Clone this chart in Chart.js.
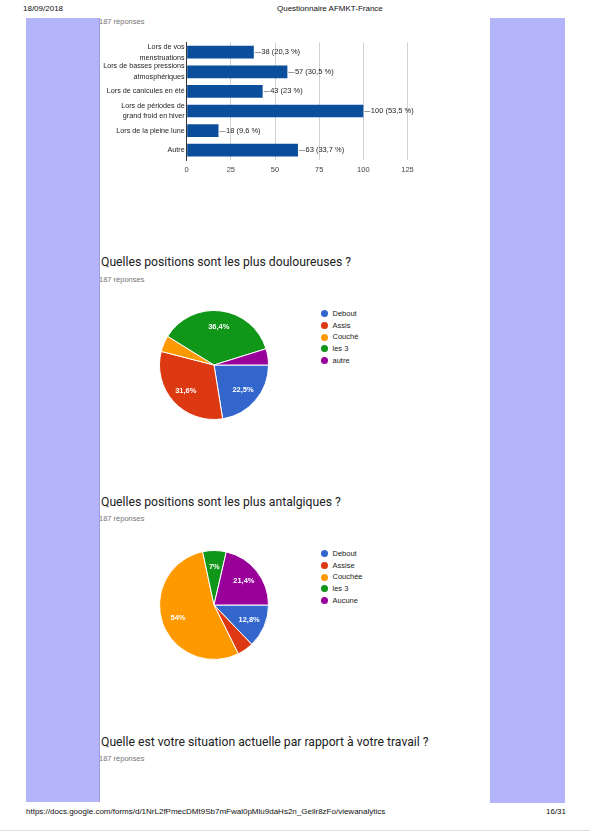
<!DOCTYPE html>
<html>
<head>
<meta charset="utf-8">
<script src="https://cdn.jsdelivr.net/npm/chart.js@4/dist/chart.umd.min.js"></script>
<style>
  body { margin: 0; width: 590px; height: 833px; background: #fff; position: relative; overflow: hidden; font-family: "Liberation Sans", Arial, sans-serif; }
  .abs { position: absolute; white-space: nowrap; }
  .band { position: absolute; background: #b4b4fb; }
  .small { font-size: 8px; color: #111; line-height: 10px; }
  .resp { font-size: 7.5px; color: #757575; line-height: 10px; }
  .title { font-family: Roboto, sans-serif; font-size: 12.2px; color: #212121; line-height: 15px; }
  .legend { position: absolute; font-size: 7.5px; color: #222; }
  .legend div { position: relative; height: 11.67px; line-height: 11.67px; padding-left: 12px; }
  .legend span { position: absolute; left: 0; top: 2.3px; width: 7px; height: 7px; border-radius: 50%; }
  canvas { position: absolute; }
</style>
</head>
<body>
<div class="abs small" style="left:23px; top:4px;">18/09/2018</div>
<div class="abs small" style="left:277px; top:4px;">Questionnaire AFMKT-France</div>

<div class="abs resp" style="left:99px; top:17px;">187 réponses</div>

<canvas id="barChart" width="340" height="145" style="left:90px; top:35px;"></canvas>

<div class="abs title" style="left:101px; top:255px;">Quelles positions sont les plus douloureuses ?</div>
<div class="abs resp" style="left:99px; top:275px;">187 réponses</div>
<canvas id="pie1" width="140" height="140" style="left:143.5px; top:294.5px;"></canvas>
<div class="legend" id="legend1" style="left:320.5px; top:308px;"></div>

<div class="abs title" style="left:101px; top:495px;">Quelles positions sont les plus antalgiques ?</div>
<div class="abs resp" style="left:99px; top:514px;">187 réponses</div>
<canvas id="pie2" width="140" height="140" style="left:143.5px; top:534.5px;"></canvas>
<div class="legend" id="legend2" style="left:320.5px; top:548px;"></div>

<div class="abs title" style="left:101px; top:734.5px;">Quelle est votre situation actuelle par rapport à votre travail ?</div>
<div class="abs resp" style="left:99px; top:754px;">187 réponses</div>

<div class="band" style="left:26px; top:18px; width:73px; height:784px;"></div>
<div class="band" style="left:99px; top:18px; width:1px; height:784px; background:#9d9de0;"></div>
<div class="band" style="left:490px; top:18px; width:75px; height:785px;"></div>

<div class="abs small" style="left:26px; top:807px;">https://docs.google.com/forms/d/1NrL2fPmecDMt9Sb7mFwal0pMlu9daHs2n_Geilr8zFo/viewanalytics</div>
<div class="abs small" style="left:546px; top:807px;">16/31</div>
<div class="abs" style="left:0; top:830px; width:590px; height:1px; background:#ddd;"></div>

<script>
const totalResponses = 187;

const barLabels = [
  ['Lors de vos', 'menstruations'],
  ['Lors de basses pressions', 'atmosphériques'],
  'Lors de canicules en été',
  ['Lors de périodes de', 'grand froid en hiver'],
  'Lors de la pleine lune',
  'Autre'
];
const barValues = [38, 57, 43, 100, 18, 63];
const barTicks = [0, 25, 50, 75, 100, 125];

const pie1Labels = ['Debout', 'Assis', 'Couché', 'les 3', 'autre'];
const pie1Values = [42, 59, 9, 68, 9];

const pie2Labels = ['Debout', 'Assise', 'Couchée', 'les 3', 'Aucune'];
const pie2Values = [24, 9, 101, 13, 40];

const pieColors = ['#3366cc', '#dc3912', '#ff9900', '#109618', '#990099'];

const chartFont = { family: '"Liberation Sans", Arial, sans-serif', size: 7.5 };

function pct(v, total) {
  let s = (v / total * 100).toFixed(1);
  if (s.endsWith('.0')) s = s.slice(0, -2);
  return s.replace('.', ',');
}

// value labels at the end of each bar: "—38 (20,3 %)"
const barValueLabels = {
  id: 'barValueLabels',
  afterDatasetsDraw(chart) {
    const ctx = chart.ctx;
    const meta = chart.getDatasetMeta(0);
    ctx.save();
    ctx.font = '7.5px "Liberation Sans", Arial, sans-serif';
    ctx.textBaseline = 'middle';
    ctx.textAlign = 'left';
    meta.data.forEach((bar, i) => {
      const v = barValues[i];
      ctx.strokeStyle = '#999';
      ctx.lineWidth = 1;
      ctx.beginPath();
      ctx.moveTo(bar.x + 1, Math.round(bar.y) + 0.5);
      ctx.lineTo(bar.x + 7, Math.round(bar.y) + 0.5);
      ctx.stroke();
      ctx.fillStyle = '#222';
      ctx.fillText(v + ' (' + pct(v, totalResponses) + ' %)', bar.x + 7.5, bar.y);
    });
    ctx.restore();
  }
};

// percentage labels inside the pie slices
const pieLabels = {
  id: 'pieLabels',
  afterDatasetsDraw(chart) {
    const ctx = chart.ctx;
    const meta = chart.getDatasetMeta(0);
    const values = chart.data.datasets[0].data;
    const total = values.reduce((a, b) => a + b, 0);
    ctx.save();
    ctx.font = 'bold 7.5px "Liberation Sans", Arial, sans-serif';
    ctx.fillStyle = '#fff';
    ctx.textAlign = 'center';
    ctx.textBaseline = 'middle';
    meta.data.forEach((arc, i) => {
      if (values[i] / total < 0.05) return;
      const mid = (arc.startAngle + arc.endAngle) / 2;
      const r = arc.outerRadius * 0.7;
      ctx.fillText(pct(values[i], total) + '%', arc.x + Math.cos(mid) * r, arc.y + Math.sin(mid) * r);
    });
    ctx.restore();
  }
};

new Chart(document.getElementById('barChart'), {
  type: 'bar',
  data: {
    labels: barLabels,
    datasets: [{
      data: barValues,
      backgroundColor: '#0b4f9c',
      barPercentage: 0.65,
      categoryPercentage: 1
    }]
  },
  options: {
    indexAxis: 'y',
    responsive: false,
    animation: false,
    layout: { padding: { top: 5, right: 22.5, left: 0, bottom: 0 } },
    plugins: { legend: { display: false }, tooltip: { enabled: false } },
    scales: {
      x: {
        min: barTicks[0],
        max: barTicks[barTicks.length - 1],
        afterBuildTicks: s => { s.ticks = barTicks.map(v => ({ value: v })); },
        ticks: { font: chartFont, color: '#444', padding: 5 },
        grid: { color: '#d0d0d0', drawTicks: false },
        border: { display: false },
        afterFit: s => { s.height = 20; }
      },
      y: {
        ticks: { font: { ...chartFont, size: 7.2, lineHeight: 1.5 }, color: '#222', padding: 2, autoSkip: false },
        grid: { display: false, drawTicks: false },
        border: { color: '#333', width: 1 },
        afterFit: s => { s.width = 96.7; }
      }
    }
  },
  plugins: [barValueLabels]
});

function makePie(id, labels, values) {
  new Chart(document.getElementById(id), {
    type: 'pie',
    data: {
      labels: labels,
      datasets: [{
        data: values,
        backgroundColor: pieColors,
        borderColor: '#fff',
        borderWidth: 1
      }]
    },
    options: {
      responsive: false,
      animation: false,
      rotation: 90,
      radius: 54.5,
      plugins: { legend: { display: false }, tooltip: { enabled: false } }
    },
    plugins: [pieLabels]
  });
}

function makeLegend(id, labels) {
  const box = document.getElementById(id);
  labels.forEach((label, i) => {
    const row = document.createElement('div');
    const dot = document.createElement('span');
    dot.style.background = pieColors[i];
    row.appendChild(dot);
    row.appendChild(document.createTextNode(label));
    box.appendChild(row);
  });
}

makePie('pie1', pie1Labels, pie1Values);
makePie('pie2', pie2Labels, pie2Values);
makeLegend('legend1', pie1Labels);
makeLegend('legend2', pie2Labels);
</script>
</body>
</html>
